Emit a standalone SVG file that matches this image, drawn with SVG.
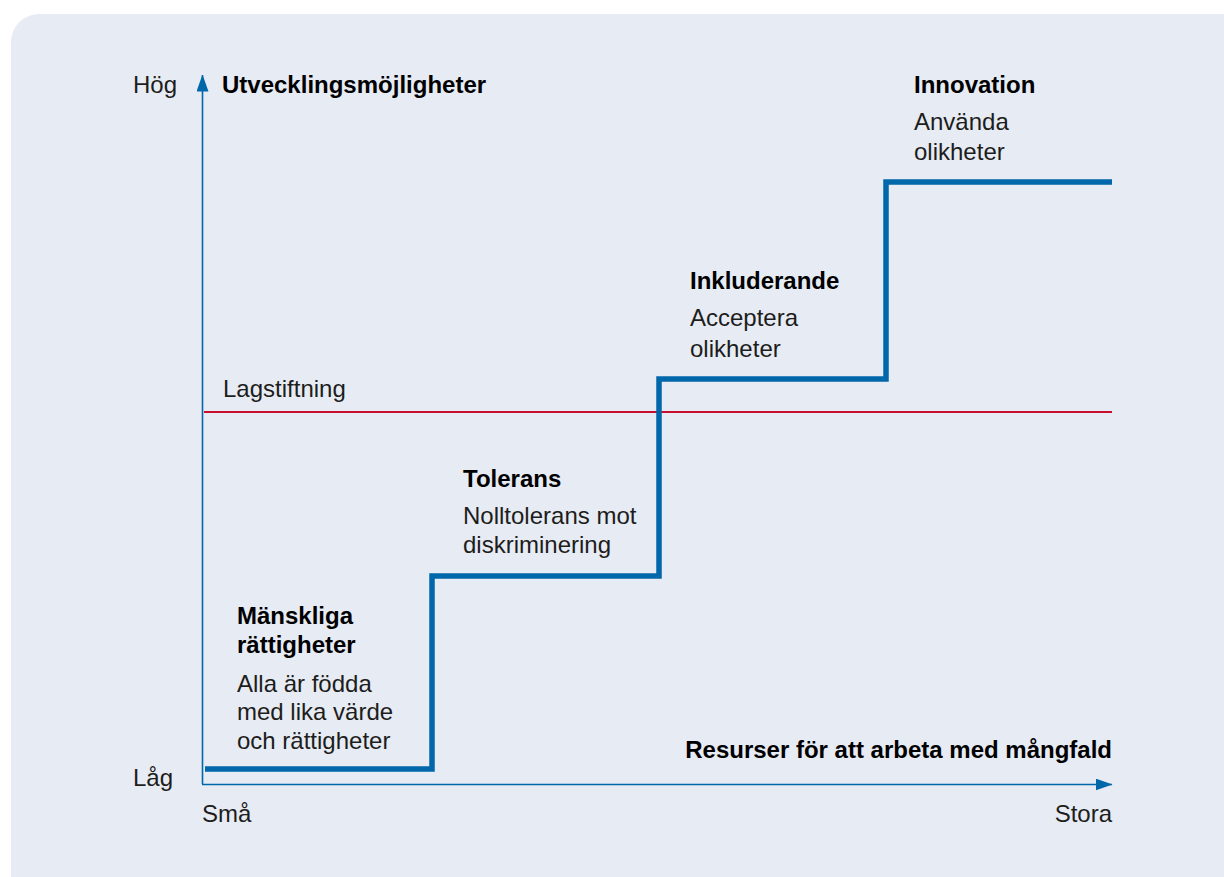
<svg xmlns="http://www.w3.org/2000/svg" width="1224" height="877" viewBox="0 0 1224 877">
<defs>
<style>
.t{font-family:"Liberation Sans",Arial,sans-serif;font-size:24px;fill:#1d1d1b}
.b{font-weight:bold;fill:#000}
.e{text-anchor:end}
.ax{stroke:#0067aa;stroke-width:1.6;fill:none}
</style>
<marker id="ah" markerWidth="17" markerHeight="12" refX="16.5" refY="6" orient="auto" markerUnits="userSpaceOnUse">
<path d="M0,0 L17,6 L0,12 Z" fill="#0067aa"/>
</marker>
</defs>
<rect x="11" y="14" width="1240" height="900" rx="28" fill="#e7ebf4"/>
<g id="connectors">
<line id="y-axis" class="ax" x1="202.5" y1="784" x2="202.5" y2="75" marker-end="url(#ah)"/>
<line id="x-axis" class="ax" x1="202" y1="784.5" x2="1112" y2="784.5" marker-end="url(#ah)"/>
<line id="law-line" x1="204" y1="412" x2="1112" y2="412" stroke="#c8102e" stroke-width="2.2"/>
<polyline id="steps" points="205,769 432,769 432,576 659,576 659,379 886,379 886,182 1112,182" fill="none" stroke="#0067aa" stroke-width="5.5"/>
</g>
<g id="axis-labels">
<text class="t" x="133" y="93">Hög</text>
<text class="t b" x="222" y="93">Utvecklingsmöjligheter</text>
<text class="t" x="133" y="786">Låg</text>
<text class="t" x="202" y="822">Små</text>
<text class="t e" x="1112" y="822">Stora</text>
<text class="t b e" x="1112" y="758">Resurser för att arbeta med mångfald</text>
</g>
<g id="node-innovation">
<text class="t b" x="914" y="93">Innovation</text>
<text class="t" x="914" y="130">Använda</text>
<text class="t" x="914" y="160">olikheter</text>
</g>
<g id="node-inkluderande">
<text class="t b" x="690" y="289">Inkluderande</text>
<text class="t" x="690" y="326">Acceptera</text>
<text class="t" x="690" y="357">olikheter</text>
</g>
<g id="node-lagstiftning">
<text class="t" x="223" y="397">Lagstiftning</text>
</g>
<g id="node-tolerans">
<text class="t b" x="463" y="487">Tolerans</text>
<text class="t" x="463" y="524">Nolltolerans mot</text>
<text class="t" x="463" y="553">diskriminering</text>
</g>
<g id="node-manskliga">
<text class="t b" x="237" y="624">Mänskliga</text>
<text class="t b" x="237" y="653">rättigheter</text>
<text class="t" x="237" y="692">Alla är födda</text>
<text class="t" x="237" y="720">med lika värde</text>
<text class="t" x="237" y="749">och rättigheter</text>
</g>
</svg>
